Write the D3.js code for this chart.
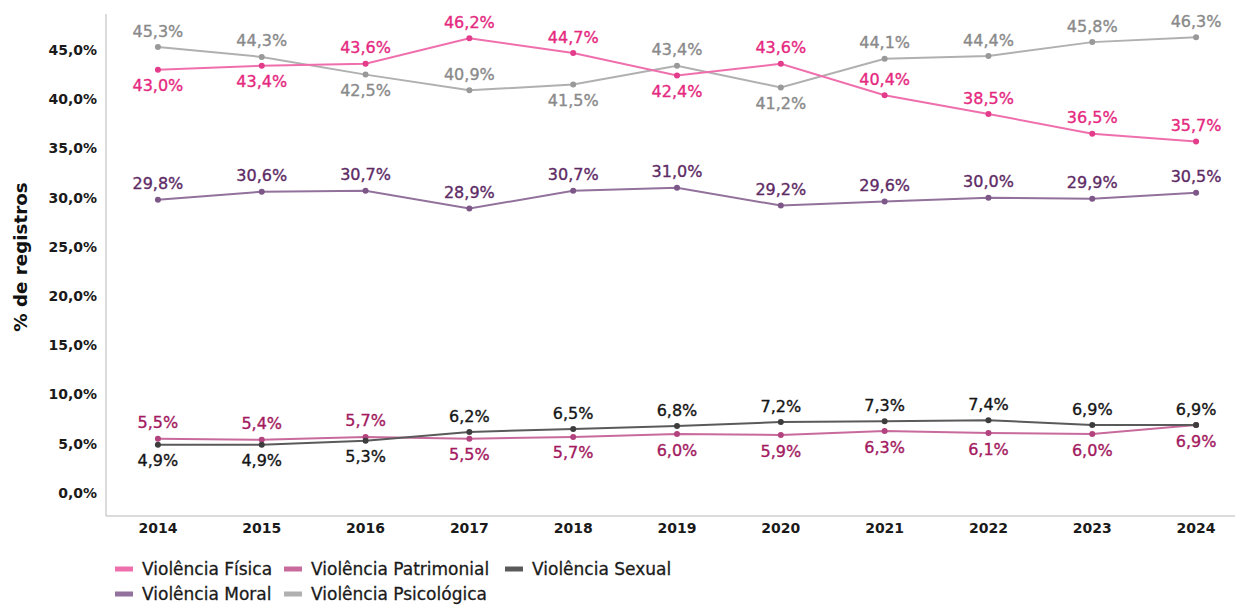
<!DOCTYPE html>
<html><head><meta charset="utf-8">
<script src="https://cdn.jsdelivr.net/npm/d3@7"></script>
<style>
body{margin:0;background:#fff;}
svg{font-family:"DejaVu Sans",sans-serif;}
</style></head>
<body><svg id="c" width="1235" height="605"></svg>
<script>
const years = ["2014","2015","2016","2017","2018","2019","2020","2021","2022","2023","2024"];
const fisica      = [43.0,43.4,43.6,46.2,44.7,42.4,43.6,40.4,38.5,36.5,35.7];
const patrimonial = [5.5,5.4,5.7,5.5,5.7,6.0,5.9,6.3,6.1,6.0,6.9];
const sexual      = [4.9,4.9,5.3,6.2,6.5,6.8,7.2,7.3,7.4,6.9,6.9];
const moral       = [29.8,30.6,30.7,28.9,30.7,31.0,29.2,29.6,30.0,29.9,30.5];
const psicologica = [45.3,44.3,42.5,40.9,41.5,43.4,41.2,44.1,44.4,45.8,46.3];
const yTicks = [0,5,10,15,20,25,30,35,40,45];
// label placement: 1 above, -1 below
const posFisica      = [-1,-1,1,1,1,-1,1,1,1,1,1];
const posPatrimonial = [1,1,1,-1,-1,-1,-1,-1,-1,-1,-1];
const posSexual      = [-1,-1,-1,1,1,1,1,1,1,1,1];
const posMoral       = [1,1,1,1,1,1,1,1,1,1,1];
const posPsicologica = [1,1,-1,1,-1,1,-1,1,1,1,1];

const series = [
  {name:"Violência Física", values:fisica, pos:posFisica, line:"#ef6fad", dot:"#e23c8a", label:"#e5297f"},
  {name:"Violência Patrimonial", values:patrimonial, pos:posPatrimonial, line:"#c86a9c", dot:"#b3437f", label:"#a31a5f"},
  {name:"Violência Sexual", values:sexual, pos:posSexual, line:"#5a5a5a", dot:"#3d3d3d", label:"#151515"},
  {name:"Violência Moral", values:moral, pos:posMoral, line:"#92719c", dot:"#7d5788", label:"#5e2b65"},
  {name:"Violência Psicológica", values:psicologica, pos:posPsicologica, line:"#b0b0b0", dot:"#999999", label:"#8a8a8a"}
];

const svg = d3.select("#c");
const mLeft = 106, mRight = 1248, mTop = 14, mBottom = 516;
const x = d3.scaleBand().domain(years).range([mLeft, mRight]);
const y = d3.scaleLinear().domain([0,45]).range([493,50]);
const fmt = v => v.toFixed(1).replace(".", ",") + "%";

// axes lines
svg.append("line").attr("x1",mLeft).attr("x2",mLeft).attr("y1",mTop).attr("y2",mBottom).attr("stroke","#cfcfcf").attr("stroke-width",1.5);
svg.append("line").attr("x1",mLeft).attr("x2",mRight).attr("y1",mBottom).attr("y2",mBottom).attr("stroke","#cfcfcf").attr("stroke-width",1.5);

// y tick labels
svg.append("g").selectAll("text").data(yTicks).join("text")
  .attr("x",97).attr("y",d=>y(d)).attr("dy","0.35em").attr("text-anchor","end")
  .attr("font-size",14).attr("font-weight","bold").attr("fill","#1a1a1a")
  .text(d=>fmt(d));

// x tick labels
svg.append("g").selectAll("text").data(years).join("text")
  .attr("x",d=>x(d)+x.bandwidth()/2).attr("y",528).attr("dy","0.35em").attr("text-anchor","middle")
  .attr("font-size",14).attr("font-weight","bold").attr("fill","#1a1a1a")
  .text(d=>d);

// y axis title
svg.append("text").attr("transform","translate(21,257) rotate(-90)")
  .attr("text-anchor","middle").attr("dy","0.35em").attr("font-size",18.3).attr("font-weight","bold").attr("fill","#111")
  .text("% de registros");

const cx = i => x(years[i]) + x.bandwidth()/2;
const line = d3.line().x((d,i)=>cx(i)).y(d=>y(d));

const order = [4,3,0,1,2];
order.forEach(si=>{
  const s = series[si];
  const g = svg.append("g");
  g.append("path").datum(s.values).attr("d",line).attr("fill","none").attr("stroke",s.line).attr("stroke-width",2);
  g.selectAll("circle").data(s.values).join("circle")
    .attr("cx",(d,i)=>cx(i)).attr("cy",d=>y(d)).attr("r",3).attr("fill",s.dot);
});
series.forEach(s=>{
  svg.append("g").selectAll("text").data(s.values).join("text")
    .attr("x",(d,i)=>cx(i)).attr("y",(d,i)=>y(d) + (s.pos[i]>0 ? -16 : 16)).attr("dy","0.35em")
    .attr("text-anchor","middle").attr("font-size",16).attr("fill",s.label)
    .attr("stroke",s.label).attr("stroke-width",0.35)
    .text(d=>fmt(d));
});

// legend
const legendPos = [[115,569],[284,569],[505,569],[115,594],[284,594]];
series.forEach((s,i)=>{
  const [lx,ly] = legendPos[i];
  svg.append("rect").attr("x",lx).attr("y",ly-2.5).attr("width",18).attr("height",5).attr("fill",s.line);
  svg.append("text").attr("x",lx+27).attr("y",ly).attr("dy","0.35em").attr("font-size",17).attr("fill","#1a1a1a")
    .attr("stroke","#1a1a1a").attr("stroke-width",0.3).text(s.name);
});
</script></body></html>
